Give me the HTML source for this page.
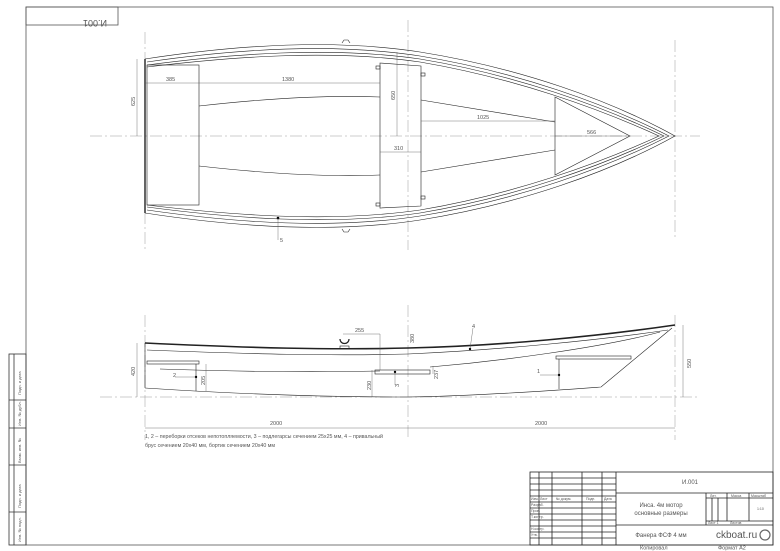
<!DOCTYPE html>
<html><head><meta charset="utf-8"><style>
html,body{margin:0;padding:0;background:#fff}
svg{display:block}
text{font-family:"Liberation Sans","DejaVu Sans",sans-serif;fill:#555}
</style></head><body>
<svg width="780" height="551" viewBox="0 0 780 551" xmlns="http://www.w3.org/2000/svg">
<g fill="none" stroke="#333" stroke-width="0.8">
<rect x="26" y="7" width="747" height="538" stroke="#555"/>
<rect x="26" y="7" width="92" height="18" stroke="#555"/>
<rect x="9" y="354" width="17" height="191"/>
<line x1="14" y1="354" x2="14" y2="545"/>
<line x1="9" y1="400" x2="26" y2="400"/>
<line x1="9" y1="428" x2="26" y2="428"/>
<line x1="9" y1="465" x2="26" y2="465"/>
<line x1="9" y1="512" x2="26" y2="512"/>
</g>
<text x="0" y="0" font-size="9" transform="translate(95,20) rotate(180)" text-anchor="middle">И.001</text>
<g font-size="4" transform="rotate(-90)">
<text x="-395" y="21">Подп. и дата</text>
<text x="-426" y="21">Инв. № дубл.</text>
<text x="-463" y="21">Взам. инв. №</text>
<text x="-508" y="21">Подп. и дата</text>
<text x="-542" y="21">Инв. № подл.</text>
</g>

<g stroke="#999" stroke-width="0.5" stroke-dasharray="12,3,2,3" fill="none">
<line x1="90" y1="136" x2="700" y2="136"/>
<line x1="100" y1="397" x2="700" y2="397"/>
<line x1="145" y1="32" x2="145" y2="250"/>
<line x1="408" y1="20" x2="408" y2="250"/>
<line x1="675" y1="40" x2="675" y2="240"/>
<line x1="145" y1="315" x2="145" y2="440"/>
<line x1="408" y1="305" x2="408" y2="440"/>
<line x1="675" y1="315" x2="675" y2="440"/>
</g>

<g fill="none" stroke="#222" stroke-width="0.6">
<path d="M145,59 C230,46 330,38 420,52 C520,68 610,100 675,136 C610,172 520,204 420,220 C330,234 230,226 145,213"/>
<path d="M147,62 C230,50 330,42 420,56 C518,72 606,104 669,136 C606,168 518,200 420,216 C330,230 230,222 147,210"/>
<path d="M147,65 C230,54 330,46 420,59 C516,75 602,106 664,136 C602,166 516,197 420,213 C330,226 230,218 147,207"/>
<path d="M147,67 C230,57 330,49 420,62 C514,78 598,108 659,136 C598,164 514,194 420,210 C330,223 230,215 147,205"/>
<line x1="145" y1="59" x2="145" y2="213" stroke-width="1.4"/>
<rect x="147" y="65" width="52" height="140"/>
<path d="M380,63 L421,66 L421,206 L380,208 Z"/>
<path d="M199,106 C270,98 330,95 380,97"/>
<path d="M199,166 C270,174 330,177 380,175"/>
<path d="M421,100 L555,122"/>
<path d="M421,172 L555,150"/>
<path d="M555,97 L630,136 L555,175 Z"/>
<rect x="376" y="66" width="4" height="3"/><rect x="376" y="203" width="4" height="3"/>
<rect x="421" y="73" width="4" height="3"/><rect x="421" y="196" width="4" height="3"/>
<path d="M342,43 l2,-3 l4,0 l2,3 M342,229 l2,3 l4,0 l2,-3"/>
</g>
<circle cx="278" cy="218" r="1.3" fill="#000"/>
<g stroke="#555" stroke-width="0.4" fill="none">
<line x1="278" y1="218" x2="278" y2="240"/>
<line x1="145" y1="83" x2="199" y2="83"/><line x1="199" y1="83" x2="380" y2="83"/>
<line x1="137" y1="59" x2="137" y2="136"/>
<line x1="397" y1="52" x2="397" y2="136"/>
<line x1="421" y1="121" x2="555" y2="121"/>
<line x1="555" y1="136" x2="630" y2="136"/>
<line x1="380" y1="152" x2="421" y2="152"/>
</g>
<g font-size="5.5">
<text x="166" y="81">385</text><text x="282" y="81">1380</text>
<text x="477" y="119">1025</text><text x="587" y="134">566</text>
<text x="394" y="150">310</text><text x="280" y="242">5</text>
<text transform="translate(135,106) rotate(-90)">625</text>
<text transform="translate(395,100) rotate(-90)">650</text>
</g>

<g fill="none" stroke="#222" stroke-width="0.6">
<path d="M145,343 C250,348 330,350 408,348 C500,346 600,336 675,325" stroke-width="1.6"/>
<path d="M147,350 C250,354 330,356 408,354 C500,350 600,340 668,330"/>
<path d="M145,343 L145,388"/>
<path d="M145,388 C250,395 330,397 408,397 C480,396 560,390 601,387 L672,328"/>
<path d="M160,369 C250,372 330,372 380,371 M430,367 C500,361 600,348 660,332"/>
<rect x="147" y="361" width="52" height="3"/>
<line x1="196" y1="364" x2="196" y2="391"/>
<rect x="556" y="356" width="75" height="3"/>
<line x1="559" y1="359" x2="559" y2="389"/>
<rect x="375" y="370" width="55" height="4"/>
<rect x="340" y="346" width="9" height="3"/>
<path d="M340,339 c0,6 9,6 9,0" stroke-width="1.2"/>
</g>
<g fill="#000"><circle cx="196" cy="377" r="1.2"/><circle cx="559" cy="375" r="1.2"/><circle cx="395" cy="372" r="1.2"/><circle cx="470" cy="349" r="1.2"/></g>
<g stroke="#555" stroke-width="0.4" fill="none">
<path d="M196,377 H175 M559,375 H540 M395,372 V385 M470,349 L473,328"/>
<line x1="137" y1="343" x2="137" y2="397"/>
<line x1="206" y1="364" x2="206" y2="391"/>
<line x1="372" y1="370" x2="372" y2="397"/>
<line x1="433" y1="366" x2="433" y2="374"/>
<line x1="683" y1="325" x2="683" y2="397"/>
<line x1="343" y1="334" x2="380" y2="334"/>
<line x1="380" y1="334" x2="380" y2="370"/>
<line x1="145" y1="428" x2="408" y2="428"/><line x1="408" y1="428" x2="675" y2="428"/>
</g>
<g font-size="5.5">
<text x="355" y="332">255</text><text x="270" y="425">2000</text><text x="535" y="425">2000</text>
<text x="173" y="377">2</text><text x="537" y="373">1</text><text x="472" y="328">4</text>
<text transform="translate(135,376) rotate(-90)">420</text>
<text transform="translate(205,385) rotate(-90)">205</text>
<text transform="translate(371,390) rotate(-90)">230</text>
<text transform="translate(414,343) rotate(-90)">380</text>
<text transform="translate(438,379) rotate(-90)">237</text>
<text transform="translate(399,387) rotate(-90)">3</text>
<text transform="translate(691,368) rotate(-90)">550</text>
</g>
<g font-size="5.3">
<text x="145" y="438">1, 2 – переборки отсеков непотопляемости, 3 – подлегарсы сечением 25х25 мм, 4 – привальный</text>
<text x="145" y="447">брус сечением 20х40 мм, бортик сечением 20х40 мм</text>
</g>

<g fill="none" stroke="#222" stroke-width="0.8">
<rect x="530" y="472" width="243" height="73"/>
<line x1="616" y1="472" x2="616" y2="545"/>
<line x1="539" y1="472" x2="539" y2="545"/>
<line x1="552" y1="472" x2="552" y2="545"/>
<line x1="582" y1="472" x2="582" y2="545"/>
<line x1="602" y1="472" x2="602" y2="545"/>
<line x1="530" y1="478" x2="616" y2="478"/>
<line x1="530" y1="484" x2="616" y2="484"/>
<line x1="530" y1="490" x2="616" y2="490"/>
<line x1="530" y1="496" x2="616" y2="496"/>
<line x1="530" y1="502" x2="616" y2="502"/>
<line x1="530" y1="508" x2="616" y2="508"/>
<line x1="530" y1="514" x2="616" y2="514"/>
<line x1="530" y1="520" x2="616" y2="520"/>
<line x1="530" y1="526" x2="616" y2="526"/>
<line x1="530" y1="532" x2="616" y2="532"/>
<line x1="530" y1="538" x2="616" y2="538"/>
<line x1="616" y1="493" x2="773" y2="493"/>
<line x1="616" y1="525" x2="773" y2="525"/>
<line x1="706" y1="493" x2="706" y2="525"/>
<line x1="727" y1="493" x2="727" y2="521"/>
<line x1="749" y1="493" x2="749" y2="521"/>
<line x1="706" y1="498" x2="773" y2="498"/>
<line x1="706" y1="521" x2="773" y2="521"/>
<line x1="712" y1="498" x2="712" y2="521"/>
<line x1="718" y1="498" x2="718" y2="521"/>
</g>
<g font-size="3.5">
<text x="531" y="500">Изм.</text><text x="540" y="500">Лист</text><text x="556" y="500">№ докум.</text><text x="586" y="500">Подп.</text><text x="604" y="500">Дата</text>
<text x="531" y="506">Разраб.</text><text x="531" y="512">Пров.</text><text x="531" y="518">Т.контр.</text>
<text x="531" y="530">Н.контр.</text><text x="531" y="536">Утв.</text>
<text x="710" y="497">Лит.</text><text x="731" y="497">Масса</text><text x="751" y="497">Масштаб</text>
<text x="708" y="524">Лист 1</text><text x="730" y="524">Листов</text>
<text x="757" y="510">1:10</text>
</g>
<g font-size="6">
<text x="690" y="484" text-anchor="middle">И.001</text>
<text x="661" y="507" text-anchor="middle">Инса. 4м мотор</text>
<text x="661" y="515" text-anchor="middle">основные размеры</text>
<text x="661" y="537" text-anchor="middle">Фанера ФСФ 4 мм</text>
<text x="640" y="549.5" font-size="5.5">Копировал</text>
<text x="718" y="549.5" font-size="5.5">Формат А2</text>
</g>
<text x="716" y="538" font-size="10" fill="#555">ckboat.ru</text>
<circle cx="765" cy="535" r="5" fill="none" stroke="#666" stroke-width="1.2"/>
</svg>
</body></html>
